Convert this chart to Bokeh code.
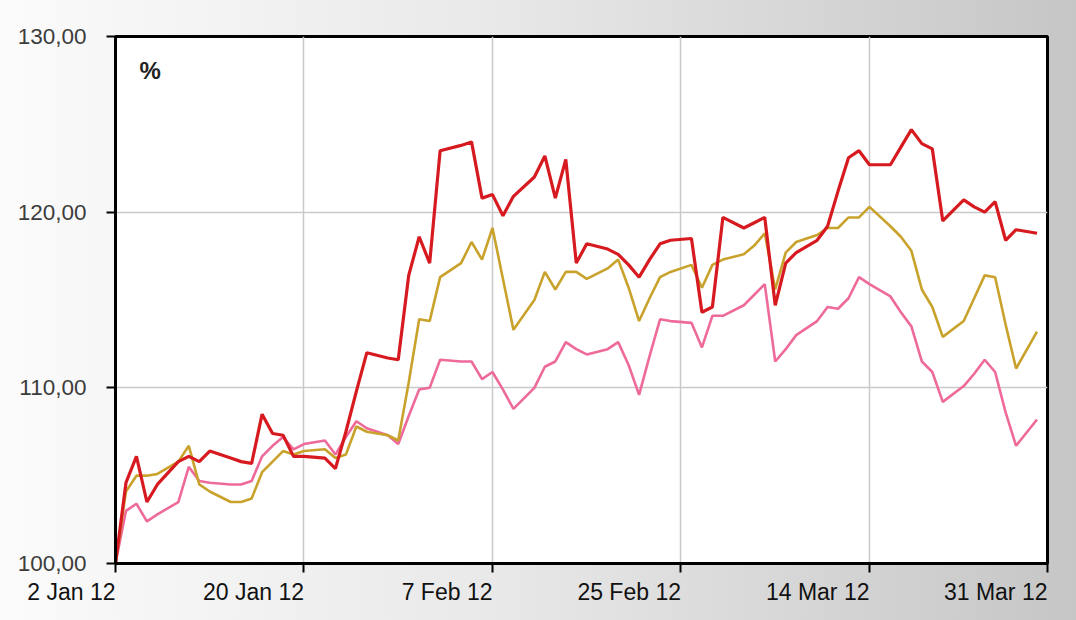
import pandas as pd
from bokeh.plotting import figure
from bokeh.models import Range1d, FixedTicker, Label
from bokeh.embed import file_html
from bokeh.resources import INLINE

# ---------------- data ----------------
dates = [
    "2012-01-02", "2012-01-03", "2012-01-04", "2012-01-05", "2012-01-06", "2012-01-08",
    "2012-01-09", "2012-01-10", "2012-01-11", "2012-01-13", "2012-01-14", "2012-01-15",
    "2012-01-16", "2012-01-17", "2012-01-18", "2012-01-19", "2012-01-20", "2012-01-22",
    "2012-01-23", "2012-01-24", "2012-01-25", "2012-01-26", "2012-01-28", "2012-01-29",
    "2012-01-30", "2012-01-31", "2012-02-01", "2012-02-02", "2012-02-04", "2012-02-05",
    "2012-02-06", "2012-02-07", "2012-02-08", "2012-02-09", "2012-02-11", "2012-02-12",
    "2012-02-13", "2012-02-14", "2012-02-15", "2012-02-16", "2012-02-18", "2012-02-19",
    "2012-02-20", "2012-02-21", "2012-02-22", "2012-02-23", "2012-02-24", "2012-02-26",
    "2012-02-27", "2012-02-28", "2012-02-29", "2012-03-02", "2012-03-03", "2012-03-04",
    "2012-03-05", "2012-03-06", "2012-03-07", "2012-03-09", "2012-03-10", "2012-03-11",
    "2012-03-12", "2012-03-13", "2012-03-14", "2012-03-16", "2012-03-17", "2012-03-18",
    "2012-03-19", "2012-03-20", "2012-03-21", "2012-03-23", "2012-03-24", "2012-03-25",
    "2012-03-26", "2012-03-27", "2012-03-28", "2012-03-30",
]

red_series = [
    100.0, 104.6, 106.1, 103.5, 104.5, 105.8, 106.1, 105.8, 106.4, 106.0,
    105.8, 105.7, 108.5, 107.4, 107.3, 106.1, 106.1, 106.0, 105.4, 107.5,
    109.8, 112.0, 111.7, 111.6, 116.4, 118.6, 117.1, 123.5, 123.8, 124.0,
    120.8, 121.0, 119.8, 120.9, 122.0, 123.2, 120.8, 123.0, 117.1, 118.2,
    117.9, 117.6, 117.0, 116.3, 117.3, 118.2, 118.4, 118.5, 114.3, 114.6,
    119.7, 119.1, 119.4, 119.7, 114.7, 117.1, 117.7, 118.4, 119.2, 121.2,
    123.1, 123.5, 122.7, 122.7, 123.7, 124.7, 123.9, 123.6, 119.5, 120.7,
    120.3, 120.0, 120.6, 118.4, 119.0, 118.8,
]

gold_series = [
    100.0, 104.1, 105.0, 105.0, 105.1, 105.8, 106.7, 104.5, 104.1, 103.5,
    103.5, 103.7, 105.2, 105.8, 106.4, 106.2, 106.4, 106.5, 106.0, 106.2,
    107.8, 107.5, 107.3, 107.0, 110.3, 113.9, 113.8, 116.3, 117.1, 118.3,
    117.3, 119.1, 116.2, 113.3, 115.0, 116.6, 115.6, 116.6, 116.6, 116.2,
    116.8, 117.3, 115.7, 113.8, 115.1, 116.3, 116.6, 117.0, 115.7, 117.0,
    117.3, 117.6, 118.1, 118.8, 115.6, 117.7, 118.3, 118.7, 119.1, 119.1,
    119.7, 119.7, 120.3, 119.2, 118.6, 117.8, 115.6, 114.6, 112.9, 113.8,
    115.1, 116.4, 116.3, 113.6, 111.1, 113.2,
]

pink_series = [
    100.0, 103.0, 103.4, 102.4, 102.8, 103.5, 105.5, 104.7, 104.6, 104.5,
    104.5, 104.7, 106.1, 106.7, 107.2, 106.5, 106.8, 107.0, 106.2, 107.2,
    108.1, 107.7, 107.3, 106.8, 108.4, 109.9, 110.0, 111.6, 111.5, 111.5,
    110.5, 110.9, 109.9, 108.8, 110.0, 111.2, 111.5, 112.6, 112.2, 111.9,
    112.2, 112.6, 111.3, 109.6, 111.8, 113.9, 113.8, 113.7, 112.3, 114.1,
    114.1, 114.7, 115.3, 115.9, 111.5, 112.2, 113.0, 113.8, 114.6, 114.5,
    115.1, 116.3, 115.9, 115.2, 114.3, 113.5, 111.5, 110.9, 109.2, 110.1,
    110.8, 111.6, 110.9, 108.6, 106.7, 108.2,
]

x_tick_dates = ["2012-01-02", "2012-01-20", "2012-02-07", "2012-02-25", "2012-03-14", "2012-03-31"]
x_tick_labels = ["2 Jan 12", "20 Jan 12", "7 Feb 12", "25 Feb 12", "14 Mar 12", "31 Mar 12"]

y_tick_values = [100, 110, 120, 130]
y_tick_labels = ["100,00", "110,00", "120,00", "130,00"]

unit_label = "%"

# ---------------- figure ----------------
x = pd.to_datetime(dates)
x_start = pd.Timestamp(x_tick_dates[0])
x_end = pd.Timestamp(x_tick_dates[-1])

p = figure(
    width=1076, height=620,
    x_axis_type="datetime",
    x_range=Range1d(x_start, x_end),
    y_range=Range1d(y_tick_values[0], y_tick_values[-1]),
    output_backend="svg", toolbar_location=None,
    min_border_left=115, min_border_right=29, min_border_top=36, min_border_bottom=55,
    styles={"background": "linear-gradient(to right, #fbfbfb 0%, #e9e9e9 45%, #c6c6c6 100%)"},
)
p.border_fill_color = None
p.background_fill_color = "white"
p.outline_line_color = "black"
p.outline_line_width = 3

tick_ms = [pd.Timestamp(d).value / 1e6 for d in x_tick_dates]
p.xaxis.ticker = FixedTicker(ticks=tick_ms)
p.xaxis.major_label_overrides = dict(zip(tick_ms, x_tick_labels))
p.yaxis.ticker = FixedTicker(ticks=y_tick_values)
p.yaxis.major_label_overrides = dict(zip(y_tick_values, y_tick_labels))

for ax in (p.xaxis[0], p.yaxis[0]):
    ax.axis_line_color = "black"
    ax.axis_line_width = 3
    ax.major_tick_line_color = "black"
    ax.major_tick_line_width = 2
    ax.major_tick_in = 0
    ax.major_tick_out = 9
    ax.minor_tick_line_color = None
    ax.major_label_text_font = "Liberation Sans"

p.xaxis.major_label_text_font_size = "23px"
p.xaxis.major_label_text_color = "#111111"
p.xaxis.major_label_standoff = 19
# a negligible positive angle makes labels end at their tick (right aligned)
p.xaxis.major_label_orientation = 0.0001

p.yaxis.major_label_text_font_size = "22.5px"
p.yaxis.major_label_text_color = "#3c3c3c"
p.yaxis.major_label_standoff = 20

p.grid.grid_line_color = "#c9c9c9"
p.grid.grid_line_width = 1.5

p.line(x, pink_series, line_color="#ee6a9a", line_width=2.6)
p.line(x, gold_series, line_color="#c9a22c", line_width=2.6)
p.line(x, red_series, line_color="#d61a20", line_width=3.2)

p.add_layout(Label(x=24, y=493, x_units="screen", y_units="screen", text=unit_label,
                   text_font="Liberation Sans", text_font_style="bold",
                   text_baseline="alphabetic",
                   text_font_size="24px", text_color="#222222"))

open("out.html", "w").write(file_html(p, INLINE))
